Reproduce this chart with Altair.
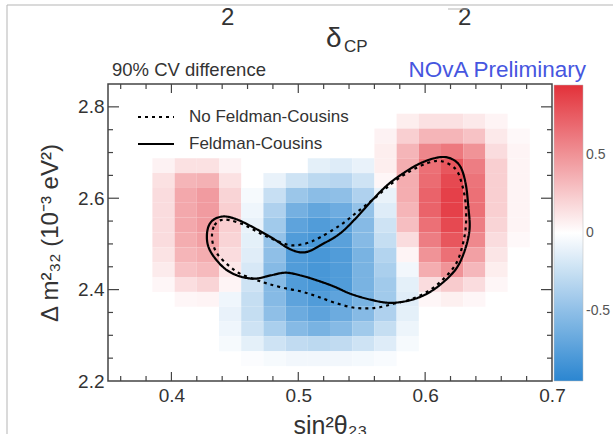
import altair as alt
import pandas as pd

FONT = "Liberation Sans"

# ---- heat-map grid (bin edges) ----
x_edges = [0.35, 0.3675, 0.385, 0.4025, 0.42, 0.4375, 0.455, 0.4725, 0.49, 0.5075, 0.525,
           0.5425, 0.56, 0.5775, 0.595, 0.6125, 0.63, 0.6475, 0.665, 0.6825, 0.7]
y_edges = [2.2, 2.2325, 2.265, 2.2975, 2.33, 2.3625, 2.395, 2.4275, 2.46, 2.4925, 2.525,
           2.5575, 2.59, 2.6225, 2.655, 2.6875, 2.72, 2.7525, 2.785, 2.8175, 2.85]

# rows listed from top (highest dm2) to bottom; columns from low to high sin2
cell_values = [
    [0, 0, 0, 0, 0, 0, 0, 0, 0, 0, 0, 0, 0, 0, 0, 0, 0, 0, 0, 0],
    [0, 0, 0, 0, 0, 0, 0, 0, 0, 0, 0, 0, 0, 0, 0, 0, 0, 0, 0, 0],
    [0, 0, 0, 0, 0, 0, 0, 0, 0, 0, 0, 0, 0, .08, .14, .14, .10, .05, 0, 0],
    [0, 0, 0, 0, 0, 0, 0, 0, 0, 0, 0, 0, .06, .22, .34, .34, .28, .10, .03, 0],
    [0, 0, 0, 0, 0, 0, 0, 0, 0, 0, 0, 0, .08, .34, .56, .62, .50, .16, .05, 0],
    [0, 0, .06, .14, .14, .06, 0, 0, 0, -.12, -.15, -.10, .08, .38, .66, .78, .60, .22, .05, 0],
    [0, 0, .14, .34, .36, .14, 0, -.10, -.22, -.30, -.32, -.22, .04, .38, .68, .84, .64, .22, .05, 0],
    [0, 0, .16, .40, .46, .20, -.04, -.25, -.45, -.52, -.50, -.36, -.10, .38, .72, .88, .66, .22, .05, 0],
    [0, 0, .16, .40, .46, .22, -.07, -.36, -.62, -.70, -.65, -.48, -.15, .34, .72, .88, .66, .22, .05, 0],
    [0, 0, .16, .40, .46, .22, -.10, -.42, -.72, -.78, -.72, -.54, -.22, .30, .66, .84, .60, .20, .05, 0],
    [0, 0, .16, .38, .44, .20, -.12, -.48, -.78, -.82, -.74, -.54, -.26, .16, .60, .78, .55, .16, .03, 0],
    [0, 0, .13, .34, .38, .16, -.14, -.50, -.78, -.82, -.78, -.60, -.34, .05, .50, .66, .44, .12, 0, 0],
    [0, 0, .09, .28, .32, .11, -.18, -.54, -.78, -.82, -.78, -.60, -.38, -.06, .38, .50, .33, .08, 0, 0],
    [0, 0, .04, .15, .20, .05, -.22, -.54, -.78, -.82, -.78, -.60, -.42, -.12, .16, .24, .16, .04, 0, 0],
    [0, 0, 0, .04, .05, -.07, -.26, -.54, -.72, -.78, -.72, -.60, -.42, -.14, .04, .07, .04, 0, 0, 0],
    [0, 0, 0, 0, 0, -.10, -.26, -.50, -.66, -.72, -.66, -.54, -.36, -.12, 0, 0, 0, 0, 0, 0],
    [0, 0, 0, 0, 0, -.07, -.22, -.38, -.54, -.60, -.54, -.42, -.26, -.08, 0, 0, 0, 0, 0, 0],
    [0, 0, 0, 0, 0, -.04, -.12, -.22, -.28, -.30, -.28, -.22, -.15, -.04, 0, 0, 0, 0, 0, 0],
    [0, 0, 0, 0, 0, 0, -.02, -.04, -.06, -.06, -.06, -.05, -.03, 0, 0, 0, 0, 0, 0, 0],
    [0, 0, 0, 0, 0, 0, 0, 0, 0, 0, 0, 0, 0, 0, 0, 0, 0, 0, 0, 0],
]

# ---- 90% contours ----
fc_x = [0.428, 0.430, 0.435, 0.443, 0.453, 0.466, 0.480, 0.494, 0.506, 0.520,
        0.533, 0.546, 0.559, 0.572, 0.588, 0.600, 0.612, 0.621, 0.628, 0.632,
        0.634, 0.635, 0.631, 0.624, 0.612, 0.600, 0.587, 0.572, 0.557, 0.541,
        0.528, 0.515, 0.502, 0.490, 0.478, 0.466, 0.454, 0.443, 0.434, 0.429]
fc_y = [2.521, 2.543, 2.556, 2.560, 2.552, 2.534, 2.512, 2.488, 2.482, 2.501,
        2.523, 2.558, 2.598, 2.633, 2.664, 2.681, 2.690, 2.686, 2.668, 2.631,
        2.582, 2.532, 2.484, 2.444, 2.411, 2.389, 2.376, 2.371, 2.378, 2.391,
        2.407, 2.420, 2.431, 2.437, 2.431, 2.424, 2.429, 2.444, 2.470, 2.495]
nofc_x = [0.432, 0.434, 0.439, 0.446, 0.458, 0.470, 0.482, 0.494, 0.506, 0.517,
          0.533, 0.547, 0.561, 0.574, 0.588, 0.602, 0.613, 0.624, 0.629, 0.632,
          0.632, 0.629, 0.624, 0.614, 0.602, 0.588, 0.575, 0.561, 0.545, 0.529,
          0.515, 0.502, 0.488, 0.476, 0.466, 0.454, 0.445, 0.437, 0.433]
nofc_y = [2.521, 2.541, 2.552, 2.552, 2.541, 2.523, 2.508, 2.497, 2.501, 2.514,
          2.541, 2.571, 2.602, 2.633, 2.659, 2.677, 2.681, 2.664, 2.631, 2.587,
          2.536, 2.492, 2.455, 2.422, 2.396, 2.378, 2.369, 2.360, 2.360, 2.371,
          2.385, 2.396, 2.404, 2.413, 2.422, 2.435, 2.453, 2.475, 2.497]
series_names = ["No Feldman-Cousins", "Feldman-Cousins"]

# ---- axis ticks ----
x_labels = [0.4, 0.5, 0.6, 0.7]
y_labels = [2.2, 2.4, 2.6, 2.8]
x_major = [0.4, 0.5, 0.6]
x_minor = [0.36, 0.38, 0.42, 0.44, 0.46, 0.48, 0.52, 0.54, 0.56, 0.58, 0.62, 0.64, 0.66, 0.68]
y_major = [2.4, 2.6, 2.8]
y_minor = [2.25, 2.3, 2.35, 2.45, 2.5, 2.55, 2.65, 2.7, 2.75]
cbar_labels = [-0.5, 0, 0.5]

# ---- build tables ----
heat_rows = []
n_rows = len(cell_values)
for r, row in enumerate(cell_values):
    j = n_rows - 1 - r
    for i, v in enumerate(row):
        if v != 0:
            heat_rows.append({"x0": x_edges[i], "x1": x_edges[i + 1],
                              "y0": y_edges[j], "y1": y_edges[j + 1], "v": v})
heat = pd.DataFrame(heat_rows)

cont = pd.concat([
    pd.DataFrame({"x": nofc_x, "y": nofc_y, "series": series_names[0], "ord": range(len(nofc_x))}),
    pd.DataFrame({"x": fc_x, "y": fc_y, "series": series_names[1], "ord": range(len(fc_x))}),
])

xs = alt.Scale(domain=[0.35, 0.7], nice=False, zero=False)
ys = alt.Scale(domain=[2.2, 2.85], nice=False, zero=False)
cs = alt.Scale(domain=[-0.95, 0, 0.95], range=["#2b86d1", "#ffffff", "#e3313a"], interpolate="rgb")

ax_x = alt.Axis(
    title="sin²θ₂₃", values=x_labels, format=".1f", labelFontSize=19, labelColor="#333",
    labelPadding=5, ticks=False, tickSize=0, domain=False, grid=False, labelFlush=False,
    titleFontSize=25, titleFontWeight="normal", titleColor="#333", titlePadding=8,
    labelFont=FONT, titleFont=FONT)
ax_y = alt.Axis(
    title="Δ m²₃₂ (10⁻³ eV²)", values=y_labels, format=".1f", labelFontSize=19,
    labelColor="#333", labelPadding=4, ticks=False, tickSize=0, domain=False, grid=False,
    titleFontSize=24, titleFontWeight="normal", titleColor="#333", titlePadding=15,
    labelFont=FONT, titleFont=FONT)

heat_layer = alt.Chart(heat).mark_rect(strokeWidth=0).encode(
    x=alt.X("x0:Q", scale=xs, axis=ax_x),
    x2="x1",
    y=alt.Y("y0:Q", scale=ys, axis=ax_y),
    y2="y1",
    color=alt.Color("v:Q", scale=cs, legend=alt.Legend(
        type="gradient", title=None, orient="none", legendX=446, legendY=1, direction="vertical",
        gradientLength=296, gradientThickness=29, values=cbar_labels,
        labelExpr="toString(datum.value)", labelFontSize=14, labelColor="#555",
        labelFont=FONT, labelOffset=3, padding=0, gradientStrokeColor="#bbbbbb",
        gradientStrokeWidth=0.5)),
)

line_layer = alt.Chart(cont).mark_line(interpolate="cardinal-closed", color="black", strokeWidth=2.2).encode(
    x=alt.X("x:Q", scale=xs, axis=ax_x),
    y=alt.Y("y:Q", scale=ys, axis=ax_y),
    order="ord:Q",
    strokeDash=alt.StrokeDash("series:N", scale=alt.Scale(domain=series_names, range=[[3, 4], [1, 0]]),
                              legend=alt.Legend(title=None, orient="none", legendX=29, legendY=14,
                                                symbolType="stroke", symbolSize=1296, symbolStrokeWidth=2,
                                                symbolStrokeColor="black", labelFontSize=17, labelFont=FONT,
                                                labelColor="#333", labelOffset=14, rowPadding=-6, padding=0)),
)


def yticks(vals, xa, xb):
    return alt.Chart(pd.DataFrame({"v": vals})).mark_rule(color="#444", strokeWidth=1.2).encode(
        y=alt.Y("v:Q", scale=ys, axis=ax_y), x=alt.value(xa), x2=alt.value(xb))


def xticks(vals, ya, yb):
    return alt.Chart(pd.DataFrame({"v": vals})).mark_rule(color="#444", strokeWidth=1.2).encode(
        x=alt.X("v:Q", scale=xs, axis=ax_x), y=alt.value(ya), y2=alt.value(yb))


def label(text, x, y, size, color="#333", align="left"):
    return alt.Chart(pd.DataFrame({"t": [text]})).mark_text(
        align=align, baseline="middle", fontSize=size, color=color, font=FONT).encode(
        x=alt.value(x), y=alt.value(y), text="t:N")


def frame_rule(xa, xb, ya, yb):
    return alt.Chart(pd.DataFrame({"t": [0]})).mark_rule(color="#b5b5b5", strokeWidth=1).encode(
        x=alt.value(xa), x2=alt.value(xb), y=alt.value(ya), y2=alt.value(yb))


layers = [
    heat_layer, line_layer,
    yticks(y_major, 0, 11), yticks(y_minor, 0, 5),
    yticks(y_major, 444, 433), yticks(y_minor, 444, 439),
    xticks(x_major, 297, 288), xticks(x_minor, 297, 292),
    xticks(x_major, 0, 9), xticks(x_minor, 0, 5),
    label("90% CV difference", 4, -14, 18.5),
    label("NOvA Preliminary", 478, -14, 22.5, color="#4656e0", align="right"),
    label("2", 113, -66, 24),
    label("δ", 218, -45, 28),
    label("CP", 236, -37, 17),
    label("2", 350, -66, 24),
    frame_rule(-101, -101, -79, 350),
    frame_rule(-101, 505, -79, -79),
    frame_rule(340, 360, -75, -75),
]

chart = alt.layer(*layers).properties(
    width=444, height=297,
    padding={"left": 108, "top": 84, "right": 61, "bottom": 53},
    autosize=alt.AutoSizeParams(type="none"),
).configure_view(stroke="#444", strokeWidth=1.5)

chart.save("out.html", embed_options={"renderer": "svg", "actions": False})
